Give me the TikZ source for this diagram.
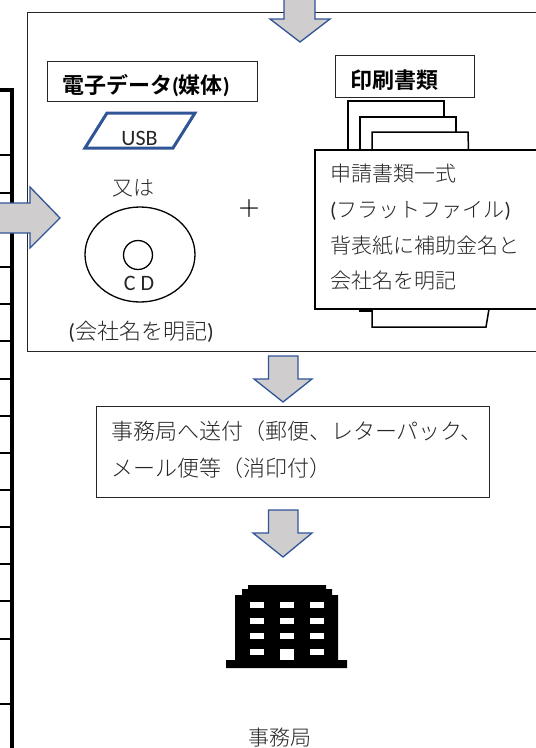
\documentclass[tikz,border=0pt]{standalone}
\usepackage{fontspec}
\setmainfont{Carlito}
\newfontfamily\cjkfont[UprightFont={* Light},BoldFont={* Bold}]{Noto Sans CJK JP}
\newcommand{\jp}[1]{{\cjkfont #1}}
\tikzset{
  blockarrow/.style={draw=arrowblue, fill=arrowgray, line width=1.3pt, line join=miter},
  plainbox/.style={draw=black!85, line width=1pt, fill=white},
  sheet/.style={draw=black, line width=1.5pt, fill=white},
  label/.style={inner sep=0pt, text=black!85, font=\fontsize{21}{35.7}\selectfont},
  title/.style={inner sep=0pt, text=black, font=\fontsize{22}{26}\selectfont\bfseries}
}
\definecolor{arrowblue}{HTML}{2F5597}
\definecolor{arrowgray}{HTML}{CFCDCD}
\begin{document}
\begin{tikzpicture}[x=1pt,y=-1pt]
	\useasboundingbox (0,0) rectangle (536,748);
	% ruler on the left
	\draw[line width=4pt] (11.7,748) -- (11.7,90) -- (0,90);
	\foreach \ya in {155,193,230,267,304,341,379,416,453,490,527,564,601,639,704}
		\draw[line width=1.4pt] (0,\ya) -- (11,\ya);
	
	% outer frame
	\draw[draw=black!85, line width=1pt] (536,12.5) -- (27,12.5) -- (27,351) -- (536,351);
	
	% block arrows
	\draw[blockarrow] (284,0) -- (284,19) -- (270,19) -- (300,42) -- (330,19) -- (315,19) -- (315,0);
	\draw[blockarrow] (0,203) -- (30,203) -- (30,187) -- (60,218) -- (30,248) -- (30,233) -- (0,233);
	\draw[blockarrow] (268.5,356) -- (268.5,379) -- (254,379) -- (283,402) -- (312,379) -- (298,379) -- (298,356) -- cycle;
	\draw[blockarrow] (268.5,510) -- (268.5,533) -- (253,533) -- (283,557) -- (312,533) -- (298,533) -- (298,510) -- cycle;
	
	% electronic data
	\node[plainbox, minimum width=210pt, minimum height=40pt, inner sep=0pt] (media) at (152,81) {};
	\node[title] (mediatext) at (146,86) {\jp{電子データ}(\jp{媒体})};
	\draw[draw=arrowblue, line width=3pt] (107,113) -- (195,113) -- (173,148) -- (85,148) -- cycle;
	\node[inner sep=0pt, font=\fontsize{22}{24}\selectfont, text=black!85] (usb) at (139.5,138) {USB};
	\node[label] (orlabel) at (133,188) {\jp{又は}};
	\draw[line width=1.3pt] (140,254.5) ellipse (55 and 47.5);
	\draw[line width=1.3pt] (138,255) circle (14.5);
	\node[inner sep=0pt, font=\fontsize{22}{24}\selectfont, text=black!85] (cd) at (139,283) {C D};
	\node[label, font=\fontsize{22}{26}\selectfont] (company) at (141,332) {(\jp{会社名を明記})};
	\node[label, text=black, font=\fontsize{24}{26}\selectfont] (plus) at (249,209) {\jp{＋}};
	
	% printed documents
	\node[plainbox, minimum width=139pt, minimum height=42pt, inner sep=0pt] (print) at (404.5,76) {};
	\node[title] (printtext) at (394,80) {\jp{印刷書類}};
	\draw[sheet] (348,150) -- (348,101) -- (444,101) -- (444,150);
	\draw[sheet] (360,150) -- (360,117) -- (456,117) -- (456,150);
	\draw[sheet] (372,150) -- (372,132) -- (468,132) -- (468.5,150);
	\draw[sheet] (360,309) -- (360,311) -- (372,311);
	\draw[sheet] (372,309) -- (372,327) -- (486,327) -- (489,309);
	\draw[sheet] (536,150) -- (315,150) -- (315,309) -- (536,309);
	\node[label, anchor=north west, align=left] (sheettext) at (330,164) {\jp{申請書類一式}\\(\jp{フラットファイル})\\\jp{背表紙に補助金名と}\\\jp{会社名を明記}};
	
	% sending
	\node[plainbox, minimum width=393pt, minimum height=91pt, inner sep=0pt] (send) at (292.5,451.5) {};
	\node[label, font=\fontsize{22}{37}\selectfont, anchor=north west, align=left] (sendtext) at (111,421) {\jp{事務局へ送付（郵便、レターパック、}\\\jp{メール便等（消印付）}};
	
	% building
	\fill (226,660) -- (235,660) -- (235,595) -- (242,595) -- (242,589) -- (248,589) -- (248,585) -- (326,585) -- (326,589) -- (332,589) -- (332,595) -- (338,595) -- (338,660) -- (347,660) -- (347,668) -- (226,668) -- cycle;
	\foreach \xa in {250,280,310}
		\foreach \ya in {602,618,633,649}
			\fill[white] (\xa,\ya) rectangle ++(13.5,6);
	\fill[white] (280,649) rectangle (293.5,660);
	\node[label] (office) at (280,738) {\jp{事務局}};
\end{tikzpicture}
\end{document}
